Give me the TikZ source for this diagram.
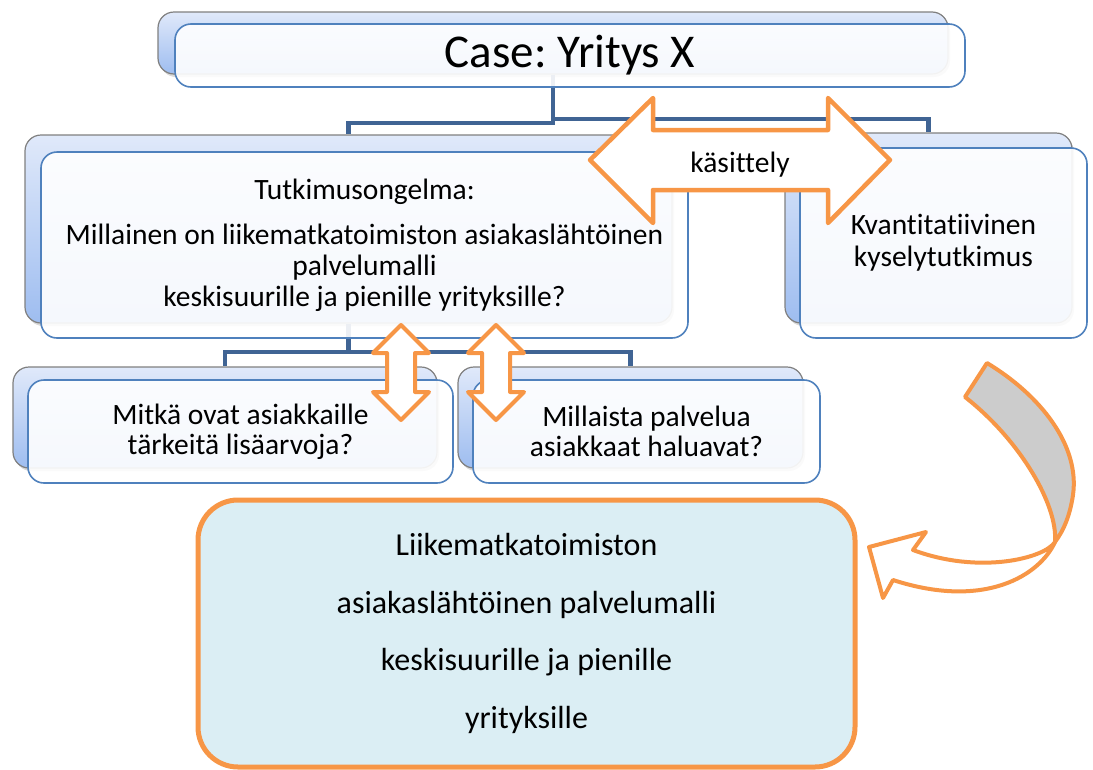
\documentclass[tikz,border=0pt]{standalone}
\usepackage{fontspec}
\setmainfont{Carlito}[Ligatures=NoCommon]
\frenchspacing
\usetikzlibrary{shadows}
\definecolor{connc}{RGB}{64,100,148}
\definecolor{orng}{RGB}{247,150,70}
\definecolor{frontline}{RGB}{79,129,189}
\definecolor{backtop}{RGB}{224,233,250}
\definecolor{backbot}{RGB}{158,189,240}
\definecolor{backline}{RGB}{128,128,128}
\definecolor{goalfill}{RGB}{219,238,244}
\definecolor{bandgray}{RGB}{204,204,204}
\begin{document}
\begin{tikzpicture}[x=1pt,y=-1pt,
  backbox/.style={draw=backline, line width=1.2pt, rounded corners=16pt, top color=backtop, bottom color=backbot,
    drop shadow={shadow xshift=2pt,shadow yshift=-3pt,opacity=0.3}, inner sep=0pt},
  frontbox/.style={draw=frontline, line width=1.6pt, rounded corners=16pt, fill=white, fill opacity=0.9, text opacity=1,
    inner sep=0pt, align=center},
  connline/.style={draw=connc, line width=4.5pt},
  arrowshape/.style={draw=orng, line width=4.5pt, fill=white, line join=round},
  bandshape/.style={draw=orng, line width=4pt, line join=round},
  txt/.style={font=\fontsize{29.5}{31}\selectfont}
]
\useasboundingbox (0,0) rectangle (1093,769);

% named levels for connectors
\coordinate (lvla) at (0,123);
\coordinate (lvlb) at (0,119);
\coordinate (lvlc) at (0,352);

% back boxes
\node[backbox, minimum width=790pt, minimum height=62pt] (topback) at (553,43) {};
\node[backbox, minimum width=647pt, minimum height=188pt] (mainback) at (348.5,229) {};
\node[backbox, minimum width=287pt, minimum height=190pt] (rightback) at (928.5,228) {};
\node[backbox, minimum width=424pt, minimum height=101pt] (sbacka) at (225,417.5) {};
\node[backbox, minimum width=345pt, minimum height=101pt] (sbackb) at (630.5,417.5) {};

% connectors
\draw[connline] (topback.south) -- (topback.south |- lvla) -| (mainback.north);
\draw[connline] (topback.south |- lvlb) -| (rightback.north);
\draw[connline] (topback.south) -- (topback.south |- lvlb);
\draw[connline] (mainback.south) -- (mainback.south |- lvlc) -| (sbacka.north);
\draw[connline] (mainback.south |- lvlc) -| (sbackb.north);

% front boxes with text
\node[frontbox, minimum width=790pt, minimum height=63pt, font=\fontsize{47}{50}\selectfont] (topfront) at (570,55.5) {Case: Yritys X};
\node[frontbox, minimum width=647pt, minimum height=186pt, txt] (mainfront) at (364.5,245)
  {Tutkimusongelma:\\[14pt]Millainen on liikematkatoimiston asiakaslähtöinen\\palvelumalli\\keskisuurille ja pienille yrityksille?};
\node[frontbox, minimum width=287pt, minimum height=190pt, font=\fontsize{29.5}{32}\selectfont] (rightfront) at (943.5,243)
  {Kvantitatiivinen\\kyselytutkimus};
\node[frontbox, minimum width=425pt, minimum height=103pt, font=\fontsize{29.5}{30}\selectfont] (sfronta) at (240.5,431.5)
  {Mitkä ovat asiakkaille\\tärkeitä lisäarvoja?};
\node[frontbox, minimum width=347pt, minimum height=103pt, font=\fontsize{29.5}{30}\selectfont] (sfrontb) at (646.5,431.5)
  {Millaista palvelua\\asiakkaat haluavat?};

% horizontal double arrow
\draw[arrowshape] (590,160) -- (653,98) -- (653,130) -- (828,130) -- (828,98) -- (890,160)
  -- (828,223) -- (828,190) -- (653,190) -- (653,223) -- cycle;
\node[txt, anchor=base] (kas) at (740,172) {käsittely};

% vertical double arrows
\draw[arrowshape, line width=4pt] (401,325) -- (429,353) -- (415,353) -- (415,392) -- (429,392) -- (401,420)
  -- (373,392) -- (387,392) -- (387,353) -- (373,353) -- cycle;
\draw[arrowshape, line width=4pt] (496,325) -- (524,353) -- (510,353) -- (510,392) -- (524,392) -- (496,420)
  -- (468,392) -- (482,392) -- (482,353) -- (468,353) -- cycle;

% result box
\node[draw=orng, line width=5pt, fill=goalfill, rounded corners=40pt, minimum width=657pt, minimum height=267pt,
  align=center, font=\fontsize{32}{57.7}\selectfont] (goal) at (526.5,633.5)
  {Liikematkatoimiston\\asiakaslähtöinen palvelumalli\\keskisuurille ja pienille\\yrityksille};

% curved twisted arrow
\draw[bandshape, fill=bandgray] (987,363) .. controls (1040,395) and (1080,445) .. (1073,495)
  .. controls (1070,515) and (1064,530) .. (1055,542)
  .. controls (1058,505) and (1020,440) .. (965,397) -- cycle;
\draw[bandshape, fill=white] (1055,542) .. controls (1045,558) and (980,575) .. (913,550)
  -- (926,532) -- (869,547) -- (883,598) -- (893,580)
  .. controls (985,610) and (1040,575) .. (1055,542);
\end{tikzpicture}
\end{document}
